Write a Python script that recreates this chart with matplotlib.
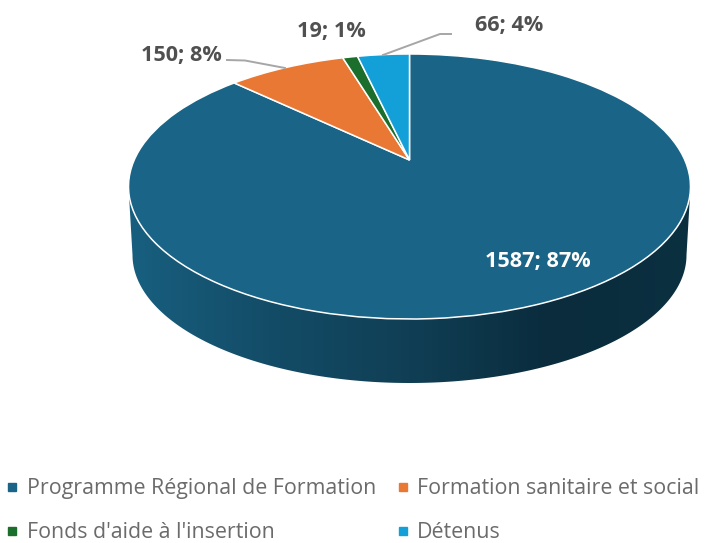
import matplotlib
matplotlib.use('Agg')
import matplotlib.pyplot as plt
import numpy as np
from matplotlib.colors import LinearSegmentedColormap
from matplotlib.lines import Line2D
from matplotlib.patches import Polygon
from matplotlib.transforms import Transform

categories = ['Programme Régional de Formation', 'Formation sanitaire et social',
              "Fonds d'aide à l'insertion", 'Détenus']
values = [1587, 150, 19, 66]
percents = [87, 8, 1, 4]
colors = ['#1a6487', '#e97835', '#1b6e2b', '#139fd8']

# pixel geometry of the tilted disc
cx, cy = 409.5, 160
kx, ky, tilt = 275.3, 127.2, 0.2
depth = 64


# Pie tilted in perspective: apex is above the middle of the ellipse.
class Tilt(Transform):
    input_dims = output_dims = 2

    def transform_non_affine(self, xy):
        xy = np.asarray(xy)
        w = 1 + tilt * xy[:, 1]
        return np.column_stack([cx + kx * xy[:, 0] / w, cy - ky * xy[:, 1] / w])


fig = plt.figure(figsize=(7.13, 5.43), dpi=100)
ax = fig.add_axes([0, 0, 1, 1])

wedges, _ = ax.pie(values, colors=colors, startangle=90, counterclock=False,
                   wedgeprops=dict(edgecolor='white', linewidth=1.1))
for w in wedges:
    w.set_transform(Tilt() + ax.transData)
    w.set_zorder(3)

# side wall, gradient clipped to the band under the front rim
t = np.linspace(np.pi, 2 * np.pi, 200)
top = Tilt().transform(np.column_stack([np.cos(t), np.sin(t)]))
top = top[top[:, 1] >= 187]
low_x = cx + 277 * np.cos(t[::-1])
low_y = 255 - 128 * np.sin(t[::-1])
band = Polygon(np.vstack([top, np.column_stack([low_x, low_y])]), closed=True,
               transform=ax.transData, facecolor='none', edgecolor='none')
ax.add_patch(band)
wall_cmap = LinearSegmentedColormap.from_list(
    'wall', ['#185f7f', '#134c67', '#103f55', '#0a2c3d', '#0b3040'])
img = ax.imshow(np.linspace(0, 1, 300)[None, :], cmap=wall_cmap, aspect='auto',
                extent=(128, 691, 383, 187), zorder=2)
img.set_clip_path(band)

ax.set_aspect('auto')
ax.set_xlim(0, 713)
ax.set_ylim(543, 0)
ax.axis('off')

# leader lines
ax.plot([227, 245, 285], [60, 60.5, 68], color='#a6a6a6', lw=1.4, zorder=4)
ax.plot([451, 440, 383], [34, 34, 55], color='#a6a6a6', lw=1.4, zorder=4)

label_pos = [(538, 261.5), (181, 55), (331, 32), (509, 26)]
label_col = ['white', '#505050', '#505050', '#505050']
for v, p, pos, c in zip(values, percents, label_pos, label_col):
    ax.text(pos[0], pos[1], f'{v}; {p}%', ha='center', va='center', color=c,
            fontsize=15.6, fontweight='bold', family='Open Sans', zorder=5)

order = [0, 2, 1, 3]
handles = [Line2D([], [], ls='none', marker='s', ms=5.5, color=colors[i]) for i in order]
ax.legend(handles, [categories[i] for i in order], ncols=2, loc='lower left',
          bbox_to_anchor=(-0.015, -0.028), frameon=False, labelcolor='#6b6b6b',
          prop=dict(family='Open Sans', size=15.4), handlelength=0.75,
          handletextpad=0.3, columnspacing=0.88, labelspacing=1.08, borderpad=0.2)

plt.savefig('out.png', dpi=100)
